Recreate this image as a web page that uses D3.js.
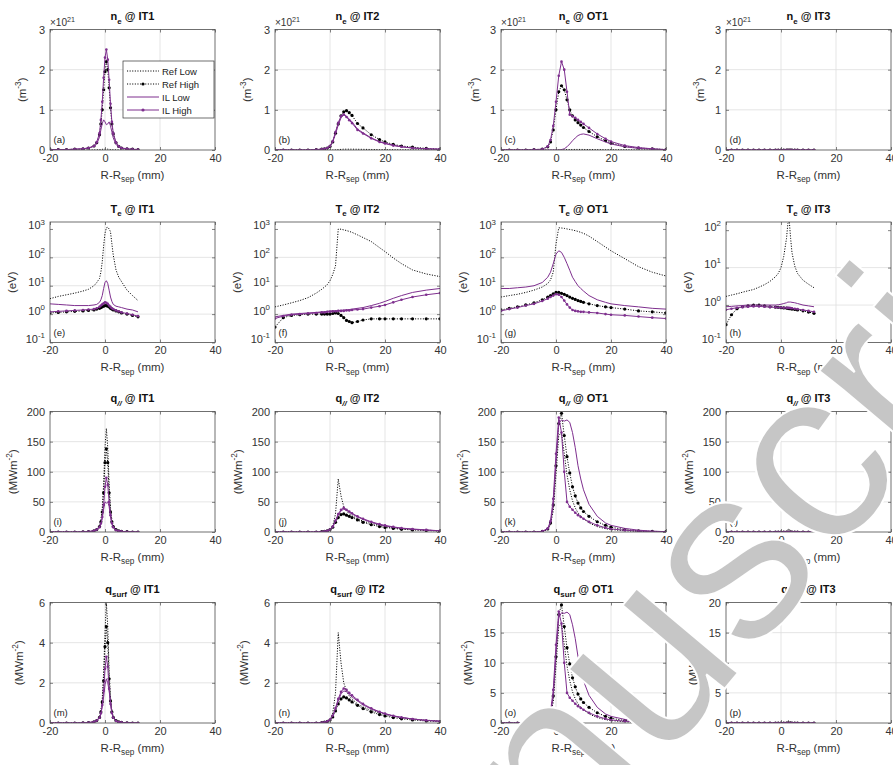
<!DOCTYPE html>
<html><head><meta charset="utf-8">
<script src="https://cdn.jsdelivr.net/npm/d3@7"></script>
<style>body{margin:0;background:#fff}svg{font-family:"Liberation Sans",Arial,Helvetica,sans-serif}</style>
</head><body><svg id="c" width="893" height="765"></svg>
<script>
// ---------------- data ----------------
const targets = ["IT1", "IT2", "OT1", "IT3"];
const seriesNames = ["Ref Low", "Ref High", "IL Low", "IL High"];
const xTicks = [-20, 0, 20, 40];
const panelLetters = ["a","b","c","d","e","f","g","h","i","j","k","l","m","n","o","p"];

const xIT1 = [-20,-17,-14,-11,-8,-6,-4,-3,-2,-1.5,-1,-0.5,0,0.5,1,1.5,2,2.5,3,4,5,6,8,10,12];
const xIT2 = [-20,-17,-14,-11,-8,-5,-3,-2,-1,0,1,2,3,4,5,6,7,8,10,12,15,18,20,23,26,30,35,40];
const xOT1 = [-20,-17,-14,-11,-8,-5,-3,-2,-1,0,1,2,3,4,5,6,7,8,9,10,12,15,18,20,25,30,35,40];
const xIT3 = [-20,-18,-16,-14,-12,-10,-8,-6,-4,-2,-1,0,1,2,2.5,3,3.5,4,5,6,8,10,12];

// n_e (1e21 m^-3): [Ref Low, Ref High, IL Low, IL High]
const neIT1 = [
  [0,0,0,0,0,0,0.002,0.004,0.008,0.012,0.016,0.02,0.022,0.022,0.02,0.016,0.012,0.008,0.005,0.003,0.002,0.001,0,0,0],
  [0.01,0.01,0.01,0.02,0.03,0.05,0.1,0.18,0.38,0.65,1.0,1.5,1.95,2.2,2.0,1.55,1.05,0.65,0.4,0.18,0.09,0.05,0.03,0.02,0.01],
  [0.01,0.01,0.01,0.02,0.03,0.05,0.09,0.15,0.32,0.5,0.66,0.75,0.7,0.63,0.65,0.7,0.6,0.45,0.3,0.14,0.07,0.04,0.02,0.01,0.01],
  [0.01,0.01,0.01,0.02,0.03,0.05,0.1,0.2,0.42,0.75,1.2,1.8,2.3,2.5,2.25,1.75,1.15,0.7,0.42,0.19,0.09,0.05,0.03,0.02,0.01]
];
const neIT2 = [
  [0,0,0,0,0,0,0,0,0,0,0,0.005,0.01,0.015,0.02,0.02,0.02,0.02,0.018,0.016,0.013,0.01,0.008,0.006,0.005,0.004,0.003,0.002],
  [0,0,0,0,0,0.01,0.02,0.03,0.05,0.09,0.2,0.42,0.65,0.85,0.95,0.98,0.93,0.86,0.66,0.55,0.38,0.26,0.2,0.14,0.1,0.07,0.04,0.02],
  [0,0,0,0,0,0.01,0.02,0.03,0.05,0.09,0.2,0.4,0.62,0.8,0.9,0.84,0.77,0.7,0.52,0.43,0.3,0.21,0.17,0.12,0.08,0.05,0.03,0.02],
  [0,0,0,0,0,0.01,0.02,0.03,0.05,0.1,0.22,0.45,0.68,0.84,0.88,0.82,0.74,0.67,0.5,0.41,0.29,0.2,0.16,0.11,0.08,0.05,0.03,0.02]
];
const neOT1 = [
  [0,0,0,0,0,0,0,0,0,0.002,0.004,0.006,0.008,0.01,0.012,0.013,0.014,0.014,0.014,0.013,0.012,0.01,0.008,0.007,0.005,0.003,0.002,0.001],
  [0,0,0,0,0.01,0.02,0.08,0.2,0.5,1.0,1.45,1.6,1.5,1.25,1.0,0.85,0.75,0.68,0.62,0.56,0.46,0.33,0.23,0.17,0.09,0.05,0.03,0.01],
  [0,0,0,0,0,0,0,0,0,0,0,0.01,0.03,0.08,0.15,0.23,0.3,0.36,0.39,0.4,0.37,0.28,0.2,0.15,0.08,0.04,0.02,0.01],
  [0,0,0,0,0.01,0.02,0.09,0.25,0.6,1.2,1.85,2.2,2.0,1.45,0.88,0.84,0.8,0.75,0.7,0.65,0.55,0.4,0.28,0.21,0.11,0.06,0.03,0.01]
];
const neIT3 = [
  [0,0,0,0,0,0,0,0,0,0,0,0,0,0,0,0,0,0,0,0,0,0,0],
  [0,0,0,0,0,0,0,0,0,0,0,0,0,0,0,0,0,0,0,0,0,0,0],
  [0,0,0,0,0,0,0,0,0,0,0,0,0,0,0,0,0,0,0,0,0,0,0],
  [0,0,0,0,0,0,0,0,0,0,0,0,0,0,0,0,0,0,0,0,0,0,0]
];

// T_e (eV)
const teIT1 = [
  [3.5,4.2,4.8,5.5,6.5,7.5,10,13,18,30,70,250,700,1100,1150,1000,800,300,120,36,20,14,7,4.5,3],
  [1.1,1.15,1.2,1.25,1.3,1.35,1.4,1.5,1.6,1.7,1.8,1.9,2.0,2.0,1.9,1.8,1.6,1.5,1.4,1.3,1.2,1.1,1.0,0.9,0.8],
  [2.3,2.2,2.1,2.0,2.0,2.0,2.1,2.2,2.6,3.2,4.5,8,13,15,12,7,4,2.8,2.2,1.9,1.8,1.7,1.5,1.4,1.2],
  [1.2,1.25,1.3,1.35,1.4,1.45,1.5,1.6,1.8,2.0,2.2,2.4,2.6,2.5,2.3,2.0,1.8,1.6,1.5,1.35,1.25,1.15,1.05,0.95,0.85]
];
const teIT2 = [
  [1.8,2.1,2.5,3,3.8,5.5,7.5,9,11,15,25,50,1000,980,930,880,820,760,620,500,360,220,160,95,60,36,26,21],
  [0.35,0.75,0.9,0.95,1.0,1.0,1.0,1.0,1.0,1.0,1.05,1.1,1.05,0.9,0.75,0.6,0.55,0.5,0.55,0.62,0.68,0.68,0.68,0.68,0.68,0.68,0.68,0.68],
  [0.8,0.9,1.0,1.05,1.1,1.15,1.2,1.2,1.25,1.3,1.3,1.3,1.35,1.35,1.4,1.4,1.45,1.5,1.6,1.7,2.0,2.4,2.8,3.6,4.5,5.8,7,8],
  [0.7,0.85,0.95,1.0,1.05,1.1,1.15,1.15,1.2,1.2,1.25,1.25,1.3,1.3,1.3,1.35,1.35,1.4,1.45,1.5,1.7,1.9,2.1,2.6,3.2,4,4.8,5.5]
];
const teOT1 = [
  [4,4.5,5,5.8,7,9,12,16,30,300,1100,1080,1050,1000,960,920,870,820,760,700,560,360,230,170,90,47,30,22],
  [1.4,1.6,1.8,2.1,2.5,3.2,4,4.5,5.2,5.8,5.8,5.4,5,4.5,4,3.6,3.3,3,2.8,2.6,2.3,2,1.8,1.7,1.5,1.3,1.2,1.1],
  [8,8,8.5,9,10,13,20,30,60,130,170,150,100,60,35,20,14,10,8,6.5,4.5,3.2,2.6,2.3,2,1.8,1.6,1.5],
  [1.3,1.5,1.7,2,2.3,2.9,3.5,4,4.5,5,4.8,4,3,2.2,1.7,1.4,1.3,1.25,1.2,1.2,1.15,1.1,1,0.95,0.9,0.82,0.75,0.7]
];
const teIT3 = [
  [1.7,1.85,2.0,2.2,2.4,2.6,3.0,3.5,4.3,5.7,7,10,20,60,150,180,60,25,11,7,4.6,3.6,2.9],
  [0.3,0.55,0.8,0.9,0.95,1.0,1.0,0.95,0.9,0.88,0.87,0.85,0.84,0.83,0.82,0.8,0.8,0.78,0.76,0.74,0.7,0.65,0.6],
  [0.9,0.92,0.95,0.97,1.0,1.0,1.0,1.0,1.0,1.0,1.02,1.05,1.1,1.15,1.2,1.2,1.2,1.18,1.15,1.1,1.0,0.95,0.9],
  [0.75,0.8,0.85,0.88,0.9,0.92,0.92,0.9,0.88,0.87,0.86,0.86,0.85,0.85,0.84,0.84,0.83,0.82,0.8,0.78,0.74,0.7,0.66]
];

// q_par (MW m^-2)
const qIT1 = [
  [0,0,0,0,0.3,0.6,2,4,10,20,40,80,140,172,140,80,40,20,10,4,2,1,0.5,0,0],
  [0,0,0,0,0.3,0.6,2,4,9,17,33,65,115,138,115,65,33,17,9,4,2,1,0.5,0,0],
  [0,0,0,0,0.3,0.6,2,4,8,13,22,38,50,48,50,42,25,13,7,3,1.5,1,0.5,0,0],
  [0,0,0,0,0.3,0.6,2,4,8,14,25,45,75,90,78,50,28,15,8,3,1.5,1,0.5,0,0]
];
const qIT2 = [
  [0,0,0,0,0,0,0,0.5,1,3,10,30,88,60,42,35,30,27,22,18,14,11,9,7,5.5,4,3,2],
  [0,0,0,0,0,0,0.5,1,2,4,8,16,24,29,30,28,26,24,20,16,12,9,7.5,6,4.5,3.5,2.5,1.5],
  [0,0,0,0,0,0,0.5,1,2,4,9,18,28,35,38,36,33,30,25,21,16,12,10,8,6,4.5,3,2],
  [0,0,0,0,0,0,0.5,1,2,4,9,19,30,37,40,37,34,31,26,22,17,13,11,8.5,6.5,5,3.5,2]
];
const qOT1 = [
  [0,0,0,0,0,1,4,12,35,95,160,165,130,95,70,52,40,32,26,22,15,9,5.5,4,2,1,0.5,0],
  [0,0,0,0,0,1,5,15,45,110,180,197,160,125,98,75,60,48,40,34,26,17,11,8,4,2,1,0.5],
  [0,0,0,0,0,1,5,15,45,115,180,186,184,186,182,165,140,110,88,70,46,26,15,11,6,3,1.5,0.5],
  [0,0,0,0,0,1,6,18,55,130,190,165,100,50,42,37,32,28,25,22,17,11,7,5,3,1.5,0.5,0]
];
const qIT3 = [
  [0,0,0,0,0,0,0,0,0,0,0,0,0.3,1,4,5,2,0.5,0,0,0,0,0],
  [0,0,0,0,0,0,0,0,0,0,0,0,0,0,0,0,0,0,0,0,0,0,0],
  [0,0,0,0,0,0,0,0,0,0,0,0,0,0,0,0,0,0,0,0,0,0,0],
  [0,0,0,0,0,0,0,0,0,0,0,0,0,0,0,0,0,0,0,0,0,0,0]
];

// q_surf (MW m^-2)
const qsIT1 = [
  [0,0,0,0,0.01,0.02,0.06,0.12,0.3,0.6,1.2,2.5,4.5,6.0,4.8,2.6,1.3,0.6,0.3,0.12,0.06,0.03,0.01,0,0],
  [0,0,0,0,0.01,0.02,0.06,0.12,0.28,0.55,1.05,2.1,3.8,4.8,4.0,2.2,1.1,0.55,0.28,0.12,0.06,0.03,0.01,0,0],
  [0,0,0,0,0.01,0.02,0.06,0.12,0.25,0.45,0.8,1.3,1.9,2.2,2.0,1.6,1.0,0.5,0.25,0.1,0.05,0.03,0.01,0,0],
  [0,0,0,0,0.01,0.02,0.06,0.12,0.26,0.48,0.9,1.6,2.7,3.3,2.8,1.7,0.95,0.5,0.26,0.1,0.05,0.03,0.01,0,0]
];
const qsIT2 = [
  [0,0,0,0,0,0,0,0.02,0.05,0.15,0.5,1.5,4.5,3.0,2.0,1.6,1.35,1.2,0.95,0.8,0.62,0.5,0.42,0.33,0.26,0.2,0.14,0.1],
  [0,0,0,0,0,0,0.02,0.04,0.08,0.15,0.3,0.6,0.95,1.2,1.3,1.25,1.15,1.05,0.88,0.72,0.55,0.42,0.35,0.27,0.21,0.15,0.1,0.07],
  [0,0,0,0,0,0,0.02,0.04,0.08,0.16,0.35,0.7,1.1,1.45,1.6,1.55,1.42,1.3,1.1,0.9,0.7,0.54,0.45,0.35,0.27,0.2,0.13,0.09],
  [0,0,0,0,0,0,0.02,0.04,0.08,0.17,0.37,0.75,1.2,1.55,1.72,1.65,1.5,1.38,1.15,0.95,0.73,0.56,0.47,0.36,0.28,0.2,0.13,0.09]
];
const qsOT1 = [
  [0,0,0,0,0,0.1,0.4,1.2,3.5,9.5,16,16.5,13,9.5,7,5.2,4,3.2,2.6,2.2,1.5,0.9,0.55,0.4,0.2,0.1,0.05,0],
  [0,0,0,0,0,0.1,0.5,1.5,4.5,11,18,19.6,16,12.5,9.8,7.5,6,4.8,4,3.4,2.6,1.7,1.1,0.8,0.4,0.2,0.1,0.05],
  [0,0,0,0,0,0.1,0.5,1.5,4.5,11.5,17.5,18.3,18.2,18.4,18,16.3,14,11,8.8,7,4.6,2.6,1.5,1.1,0.6,0.3,0.15,0.05],
  [0,0,0,0,0,0.1,0.6,1.8,5.5,13,18.5,16.5,10,5,4.2,3.7,3.2,2.8,2.5,2.2,1.7,1.1,0.7,0.5,0.3,0.15,0.05,0]
];
const qsIT3 = [
  [0,0,0,0,0,0,0,0,0,0,0,0,0.02,0.1,0.3,0.35,0.15,0.05,0,0,0,0,0],
  [0,0,0,0,0,0,0,0,0,0,0,0,0,0,0,0,0,0,0,0,0,0,0],
  [0,0,0,0,0,0,0,0,0,0,0,0,0,0,0,0,0,0,0,0,0,0,0],
  [0,0,0,0,0,0,0,0,0,0,0,0,0,0,0,0,0,0,0,0,0,0,0]
];

const neTicks = [0, 1, 2, 3];
const teTicks = [0.1, 1, 10, 100, 1000];
const teTicksIT3 = [0.1, 1, 10, 100];
const qTicks = [0, 50, 100, 150, 200];
const qsTicksSmall = [0, 2, 4, 6];
const qsTicksLarge = [0, 5, 10, 15, 20];

// ---------------- layout / style ----------------
const lefts = [50, 275, 501, 726];
const tops = [29.5, 222, 411.5, 602.5];
const PW = 165, PH = 120.5;
const purple = "#7E2F8E";
const styles = [
  {color: "#000", dash: "1.1,1.5", marker: false},
  {color: "#000", dash: "1.1,1.5", marker: true},
  {color: purple, dash: null, marker: false},
  {color: purple, dash: null, marker: true}
];
const xsByTarget = [xIT1, xIT2, xOT1, xIT3];

const rows = [
  {title: "n", sub: "e", subItalic: false, data: [neIT1, neIT2, neOT1, neIT3], log: false,
   domains: [[0,3],[0,3],[0,3],[0,3]], ticks: [neTicks,neTicks,neTicks,neTicks],
   ylab: [{t:"(m"},{t:"-3",sup:true},{t:")"}], ylabOff: [24,24,22,22]},
  {title: "T", sub: "e", subItalic: false, data: [teIT1, teIT2, teOT1, teIT3], log: true,
   domains: [[0.1,1760],[0.1,1760],[0.1,1760],[0.1,165]], ticks: [teTicks,teTicks,teTicks,teTicksIT3],
   ylab: [{t:"(eV)"}], ylabOff: [34,34,34,34]},
  {title: "q", sub: "//", subItalic: true, data: [qIT1, qIT2, qOT1, qIT3], log: false,
   domains: [[0,200],[0,200],[0,200],[0,200]], ticks: [qTicks,qTicks,qTicks,qTicks],
   ylab: [{t:"(MWm"},{t:"-2",sup:true},{t:")"}], ylabOff: [33,33,33,33]},
  {title: "q", sub: "surf", subItalic: false, data: [qsIT1, qsIT2, qsOT1, qsIT3], log: false,
   domains: [[0,6],[0,6],[0,20],[0,20]], ticks: [qsTicksSmall,qsTicksSmall,qsTicksLarge,qsTicksLarge],
   ylab: [{t:"(MWm"},{t:"-2",sup:true},{t:")"}], ylabOff: [27,27,29,29]}
];

const svg = d3.select("#c");
const FS = 11;

function rich(sel, parts, fs) {
  let shift = 0;
  parts.forEach(p => {
    const target = p.sup ? -fs * 0.42 : (p.sub ? fs * 0.32 : 0);
    const ts = sel.append("tspan").text(p.t).attr("dy", (target - shift).toFixed(2));
    if (p.sup || p.sub) ts.attr("font-size", (fs * 0.72).toFixed(2));
    if (p.italic) ts.attr("font-style", "italic");
    shift = target;
  });
}

let defs = svg.append("defs");

rows.forEach((row, r) => {
  targets.forEach((tg, c) => {
    const L = lefts[c], T = tops[r];
    const g = svg.append("g");
    const x = d3.scaleLinear().domain([-20, 40]).range([L, L + PW]);
    const y = (row.log ? d3.scaleLog() : d3.scaleLinear()).domain(row.domains[c]).range([T + PH, T]);
    const yt = row.ticks[c];

    g.append("rect").attr("x", L).attr("y", T).attr("width", PW).attr("height", PH).attr("fill", "#fff");
    g.selectAll(".gx").data(xTicks.slice(1, -1)).join("line")
      .attr("x1", d => x(d)).attr("x2", d => x(d)).attr("y1", T).attr("y2", T + PH)
      .attr("stroke", "#dedede").attr("stroke-width", 0.8);
    g.selectAll(".gy").data(yt.slice(1, -1)).join("line")
      .attr("y1", d => y(d)).attr("y2", d => y(d)).attr("x1", L).attr("x2", L + PW)
      .attr("stroke", "#dedede").attr("stroke-width", 0.8);

    const cid = "clip" + r + c;
    defs.append("clipPath").attr("id", cid).append("rect")
      .attr("x", L).attr("y", T).attr("width", PW).attr("height", PH);
    const pg = g.append("g").attr("clip-path", `url(#${cid})`);

    const xs = xsByTarget[c];
    row.data[c].forEach((vals, s) => {
      const st = styles[s];
      const pts = xs.map((xv, i) => [xv, vals[i]]);
      const line = d3.line().x(d => x(d[0])).y(d => y(d[1]));
      pg.append("path").attr("d", line(pts)).attr("fill", "none")
        .attr("stroke", st.color).attr("stroke-width", 1)
        .attr("stroke-dasharray", st.dash);
      if (st.marker) {
        pg.selectAll(null).data(pts).join("circle")
          .attr("cx", d => x(d[0])).attr("cy", d => y(d[1]))
          .attr("r", s === 1 ? 1.6 : 1.3).attr("fill", st.color);
      }
    });

    g.append("rect").attr("x", L).attr("y", T).attr("width", PW).attr("height", PH)
      .attr("fill", "none").attr("stroke", "#4d4d4d").attr("stroke-width", 0.8);

    const fmt = d => String(d);
    g.append("g").attr("transform", `translate(0,${T + PH})`)
      .call(d3.axisBottom(x).tickValues(xTicks).tickFormat(fmt).tickSizeInner(-3).tickSizeOuter(0).tickPadding(4));
    g.append("g").attr("transform", `translate(0,${T})`)
      .call(d3.axisTop(x).tickValues(xTicks).tickFormat("").tickSizeInner(-3).tickSizeOuter(0));
    const ay = g.append("g").attr("transform", `translate(${L},0)`)
      .call(d3.axisLeft(y).tickValues(yt).tickFormat(row.log ? () => "" : fmt).tickSizeInner(-3).tickSizeOuter(0).tickPadding(5));
    g.append("g").attr("transform", `translate(${L + PW},0)`)
      .call(d3.axisRight(y).tickValues(yt).tickFormat("").tickSizeInner(-3).tickSizeOuter(0));
    g.selectAll(".domain").remove();
    g.selectAll(".tick line").attr("stroke", "#4d4d4d").attr("stroke-width", 0.7);
    g.selectAll(".tick text").attr("font-size", FS).attr("fill", "#333")
      .attr("font-family", '"Liberation Sans",Arial,sans-serif');
    if (row.log) {
      ay.selectAll(".tick text").each(function(d) {
        const t = d3.select(this);
        t.text(null);
        rich(t, [{t: "10"}, {t: String(Math.round(Math.log10(d))), sup: true}], FS);
      });
    }

    if (r === 0) {
      const e = g.append("text").attr("x", L).attr("y", T - 3.5).attr("font-size", 10).attr("fill", "#333");
      rich(e, [{t: "\u00d710"}, {t: "21", sup: true}], 10);
    }

    const tt = g.append("text").attr("x", L + PW / 2).attr("y", T - 9.5).attr("text-anchor", "middle")
      .attr("font-size", 11).attr("font-weight", "bold").attr("fill", "#111");
    rich(tt, [{t: row.title}, {t: row.sub, sub: true, italic: row.subItalic}, {t: " @ " + tg}], 11);

    const xl = g.append("text").attr("x", L + PW / 2).attr("y", T + PH + 28.5).attr("text-anchor", "middle")
      .attr("font-size", 11.5).attr("fill", "#333");
    rich(xl, [{t: "R-R"}, {t: "sep", sub: true}, {t: " (mm)"}], 11.5);

    const yx = L - row.ylabOff[c], yy = T + PH / 2;
    const yl = g.append("text").attr("transform", `translate(${yx},${yy}) rotate(-90)`)
      .attr("text-anchor", "middle").attr("font-size", 11.5).attr("fill", "#333");
    rich(yl, row.ylab, 11.5);

    g.append("text").attr("x", L + 3.5).attr("y", T + PH - 7).attr("font-size", 9.5).attr("fill", "#222")
      .text("(" + panelLetters[r * 4 + c] + ")");

    if (r === 0 && c === 0) {
      const lg = g.append("g");
      const lx0 = 123, ly0 = 61, lw = PW + L - 123 - 1, lh = 57;
      lg.append("rect").attr("x", lx0).attr("y", ly0).attr("width", lw).attr("height", lh)
        .attr("fill", "#fff").attr("stroke", "#333").attr("stroke-width", 0.7);
      seriesNames.forEach((nm, s) => {
        const st = styles[s];
        const yy2 = ly0 + 10 + s * 13;
        lg.append("line").attr("x1", lx0 + 4).attr("x2", lx0 + 36).attr("y1", yy2).attr("y2", yy2)
          .attr("stroke", st.color).attr("stroke-width", 1).attr("stroke-dasharray", st.dash);
        if (st.marker) lg.append("circle").attr("cx", lx0 + 20).attr("cy", yy2).attr("r", 1.6).attr("fill", st.color);
        lg.append("text").attr("x", lx0 + 39).attr("y", yy2 + 3.5).attr("font-size", 9.5).attr("fill", "#222").text(nm);
      });
    }
  });
});

// watermark
svg.append("text").attr("transform", "translate(347,1139) rotate(-50)")
  .attr("font-size", 250).attr("fill", "#c6c6c6").attr("stroke", "#fff").attr("stroke-width", 2)
  .attr("font-family", '"Liberation Sans",Arial,sans-serif').text("manuscript");
</script></body></html>
